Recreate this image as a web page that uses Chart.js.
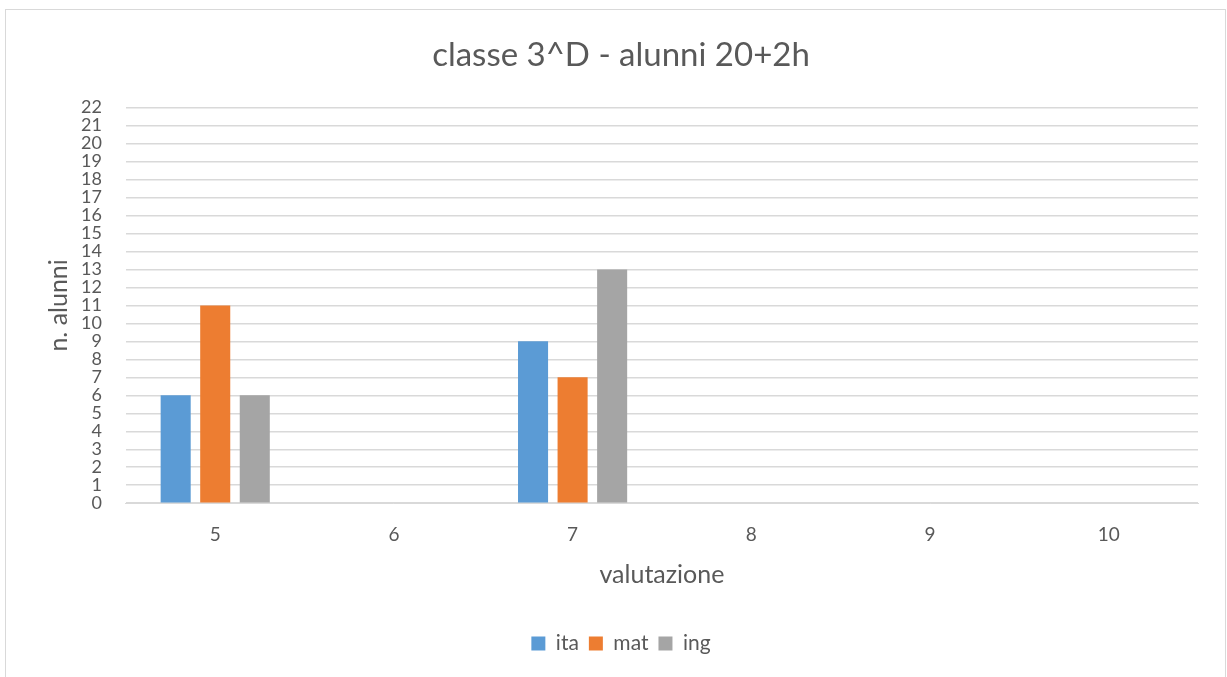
<!DOCTYPE html>
<html lang="it">
<head>
<meta charset="UTF-8">
<title>classe 3^D - alunni 20+2h</title>
<script src="https://cdn.jsdelivr.net/npm/chart.js"></script>
<style>
  body { margin: 0; background: #fff; overflow: hidden; }
  /* cornice del grafico come in Excel */
  #box { position: absolute; left: 5px; top: 9px; width: 1219px; height: 680px; border: 1px solid #d9d9d9; }
  #wrap { position: absolute; left: 0; top: 0; width: 1219px; height: 668px; }
</style>
</head>
<body>
<div id="box">
  <div id="wrap"><canvas id="grafico"></canvas></div>
</div>
<script>
  // dati
  const valutazioni = ['5', '6', '7', '8', '9', '10'];
  const ita = [6, 0, 9, 0, 0, 0];
  const mat = [11, 0, 7, 0, 0, 0];
  const ing = [6, 0, 13, 0, 0, 0];

  const grigio = '#595959';
  Chart.defaults.font.family = 'Lato, "Open Sans", sans-serif';
  Chart.defaults.color = grigio;

  new Chart(document.getElementById('grafico'), {
    type: 'bar',
    data: {
      labels: valutazioni,
      datasets: [
        { label: 'ita', data: ita, backgroundColor: '#5b9bd5' },
        { label: 'mat', data: mat, backgroundColor: '#ed7d31' },
        { label: 'ing', data: ing, backgroundColor: '#a5a5a5' }
      ]
    },
    options: {
      responsive: true,
      maintainAspectRatio: false,
      animation: false,
      categoryPercentage: 0.664,
      barPercentage: 0.76,
      layout: { padding: { left: 38, right: 27, top: 0, bottom: 14 } },
      plugins: {
        title: {
          display: true,
          text: 'classe 3^D - alunni 20+2h',
          font: { size: 33, weight: 'normal' },
          color: grigio,
          padding: { top: 26, bottom: 32 }
        },
        legend: {
          position: 'bottom',
          labels: { boxWidth: 14, boxHeight: 14, font: { size: 21 }, color: grigio, padding: 10 }
        },
        tooltip: { enabled: false }
      },
      scales: {
        x: {
          grid: { display: false, drawTicks: false },
          border: { color: '#d9d9d9' },
          ticks: { font: { size: 19 }, padding: 20 },
          title: { display: true, text: 'valutazione', font: { size: 25 }, padding: { top: -6, bottom: 33 } }
        },
        y: {
          min: 0,
          max: 22,
          grid: { color: '#d9d9d9', lineWidth: 1.5, drawTicks: false },
          border: { display: false },
          ticks: { stepSize: 1, autoSkip: false, font: { size: 18 }, padding: 24 },
          title: { display: true, text: 'n. alunni', font: { size: 25 }, padding: { top: 0, bottom: -17 } }
        }
      }
    }
  });
</script>
</body>
</html>
